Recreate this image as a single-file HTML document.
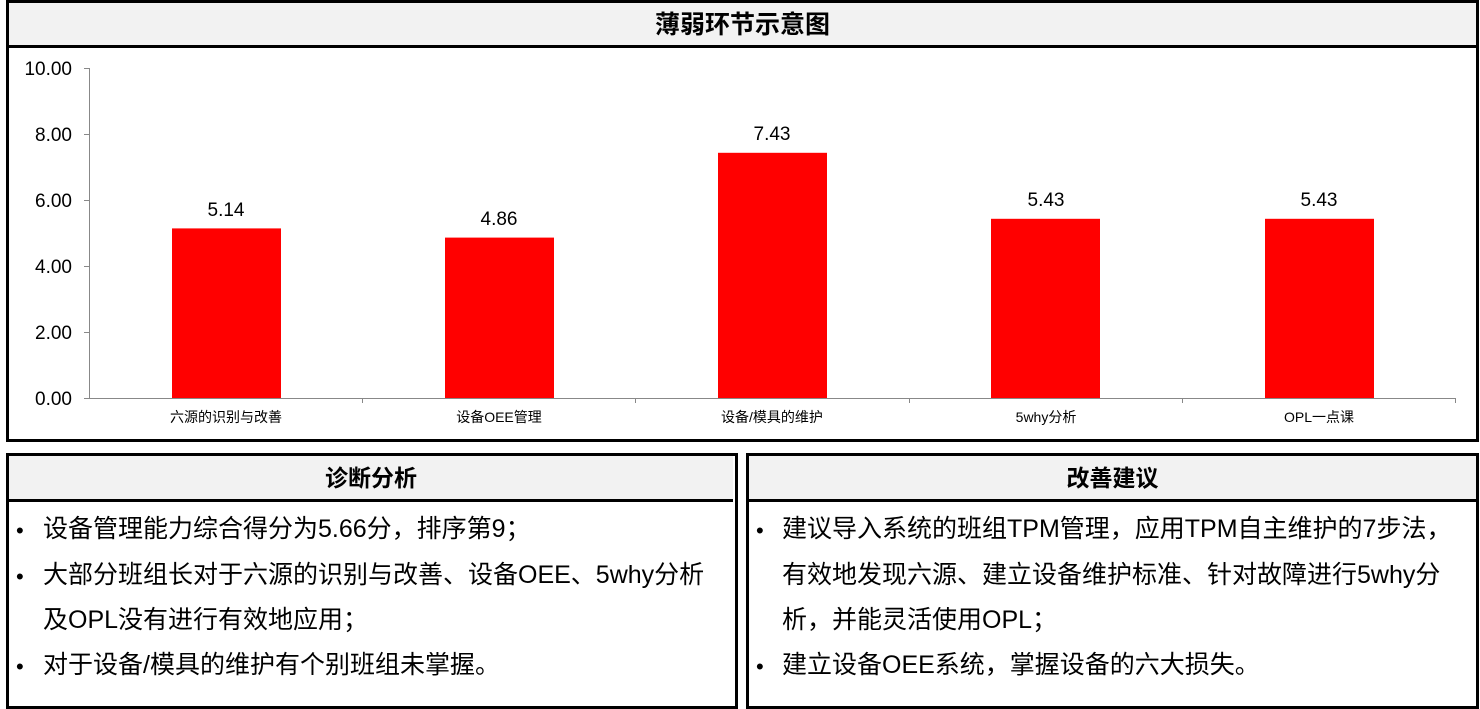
<!DOCTYPE html>
<html><head><meta charset="utf-8"><style>
body{margin:0;width:1480px;height:709px;background:#fff;font-family:"Liberation Sans","Noto Sans CJK SC",sans-serif;position:relative;overflow:hidden}
.box{position:absolute;border:3px solid #000;box-sizing:border-box}
.hd{position:absolute;left:0;right:0;top:0;background:#f2f2f2;border-bottom:3px solid #000;text-align:center;font-weight:bold;font-size:23px;color:#000}
.t{position:absolute;font-size:25px;color:#000;white-space:nowrap;line-height:30px}
.b{position:absolute;font-size:22px;line-height:30px}
</style></head><body>
<div class="box" style="left:6px;top:0;width:1473px;height:442px">
 <div class="hd" style="height:42px;line-height:44px;font-size:25px">薄弱环节示意图</div>
</div>
<svg style="position:absolute;left:0;top:0" width="1480" height="440" font-family="Liberation Sans,Noto Sans CJK SC,sans-serif">
 <g stroke="#888" stroke-width="1">
  <line x1="89.5" y1="68" x2="89.5" y2="398"/>
  <line x1="89" y1="398.5" x2="1455" y2="398.5"/>
  <line x1="84" y1="68.5" x2="89" y2="68.5"/><line x1="84" y1="134.5" x2="89" y2="134.5"/>
  <line x1="84" y1="200.5" x2="89" y2="200.5"/><line x1="84" y1="266.5" x2="89" y2="266.5"/>
  <line x1="84" y1="332.5" x2="89" y2="332.5"/><line x1="84" y1="398.5" x2="89" y2="398.5"/>
  <line x1="362.5" y1="398" x2="362.5" y2="403"/><line x1="635.5" y1="398" x2="635.5" y2="403"/>
  <line x1="909.5" y1="398" x2="909.5" y2="403"/><line x1="1182.5" y1="398" x2="1182.5" y2="403"/>
  <line x1="1455.5" y1="398" x2="1455.5" y2="403"/>
 </g>
 <g font-size="19" text-anchor="end" fill="#000">
  <text x="72" y="75">10.00</text><text x="72" y="141">8.00</text><text x="72" y="207">6.00</text>
  <text x="72" y="273">4.00</text><text x="72" y="339">2.00</text><text x="72" y="405">0.00</text>
 </g>
 <g fill="#ff0000">
  <rect x="172" y="228.4" width="109" height="169.6"/>
  <rect x="445" y="237.6" width="109" height="160.4"/>
  <rect x="718" y="152.8" width="109" height="245.2"/>
  <rect x="991" y="218.8" width="109" height="179.2"/>
  <rect x="1265" y="218.8" width="109" height="179.2"/>
 </g>
 <g font-size="19" text-anchor="middle" fill="#000">
  <text x="226" y="216">5.14</text><text x="499" y="225">4.86</text><text x="772" y="140">7.43</text>
  <text x="1046" y="206">5.43</text><text x="1319" y="206">5.43</text>
 </g>
 <g font-size="14" text-anchor="middle" fill="#000">
  <text x="226" y="422">六源的识别与改善</text><text x="499" y="422">设备OEE管理</text>
  <text x="772" y="422">设备/模具的维护</text><text x="1046" y="422">5why分析</text><text x="1319" y="422">OPL一点课</text>
 </g>
</svg>
<div class="box" style="left:6px;top:453px;width:732px;height:256px">
 <div class="hd" style="height:43px;line-height:44px;right:2px">诊断分析</div>
</div>
<div class="box" style="left:746px;top:453px;width:733px;height:256px">
 <div class="hd" style="height:43px;line-height:44px">改善建议</div>
</div>
<div class="b" style="left:16px;top:516px">•</div>
<div class="t" style="left:43px;top:514px">设备管理能力综合得分为5.66分，排序第9；</div>
<div class="b" style="left:16px;top:562px">•</div>
<div class="t" style="left:43px;top:560px">大部分班组长对于六源的识别与改善、设备OEE、5why分析</div>
<div class="t" style="left:43px;top:605px">及OPL没有进行有效地应用；</div>
<div class="b" style="left:16px;top:652px">•</div>
<div class="t" style="left:43px;top:650px">对于设备/模具的维护有个别班组未掌握。</div>
<div class="b" style="left:756px;top:516px">•</div>
<div class="t" style="left:782px;top:514px">建议导入系统的班组TPM管理，应用TPM自主维护的7步法，</div>
<div class="t" style="left:782px;top:560px">有效地发现六源、建立设备维护标准、针对故障进行5why分</div>
<div class="t" style="left:782px;top:605px">析，并能灵活使用OPL；</div>
<div class="b" style="left:756px;top:652px">•</div>
<div class="t" style="left:782px;top:650px">建立设备OEE系统，掌握设备的六大损失。</div>
</body></html>
